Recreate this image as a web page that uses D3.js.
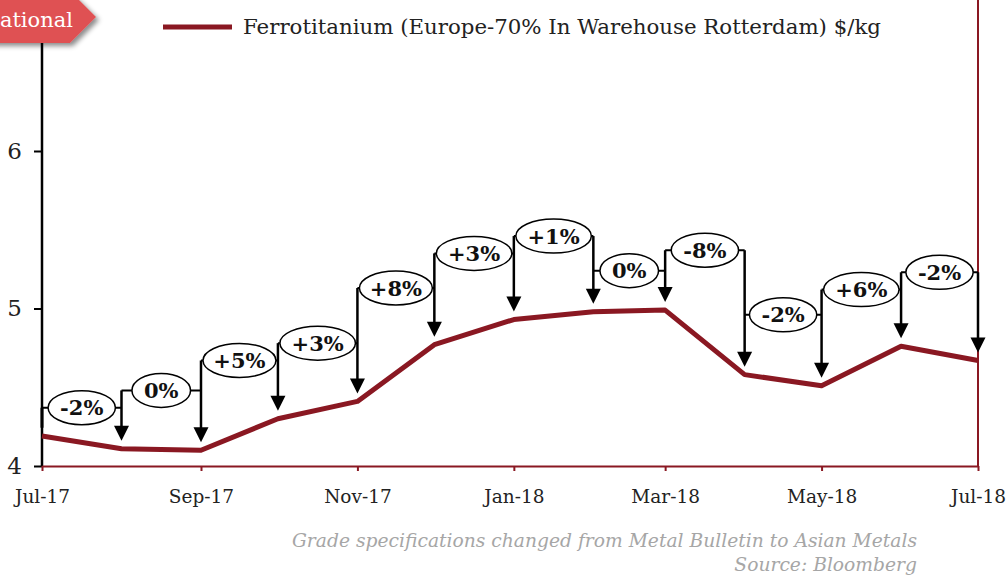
<!DOCTYPE html>
<html>
<head>
<meta charset="utf-8">
<script src="https://cdn.jsdelivr.net/npm/d3@7"></script>
<style>
  body { margin: 0; background: #fff; }
  svg { display: block; font-family: Georgia, "DejaVu Serif", serif; }
</style>
</head>
<body>
<div id="chart"></div>
<script>
/*
DATA
*/
const months = ["2017-07", "2017-08", "2017-09", "2017-10", "2017-11", "2017-12",
  "2018-01", "2018-02", "2018-03", "2018-04", "2018-05", "2018-06", "2018-07"];
const prices = [4.19, 4.11, 4.10, 4.30, 4.41, 4.77, 4.93, 4.98, 4.99, 4.58, 4.51, 4.76, 4.67];
// month-on-month change labels and the height (in $/kg) where each label sits
const changeLabels = ["-2%", "0%", "+5%", "+3%", "+8%", "+3%", "+1%", "0%", "-8%", "-2%", "+6%", "-2%"];
const labelLevels = [4.37, 4.48, 4.67, 4.78, 5.13, 5.35, 5.46, 5.24, 5.37, 4.96, 5.12, 5.23];
const yTicks = [4, 5, 6];
const xTicks = ["2017-07", "2017-09", "2017-11", "2018-01", "2018-03", "2018-05", "2018-07"];

const seriesName = "Ferrotitanium (Europe-70% In Warehouse Rotterdam) $/kg";
const footNote = "Grade specifications changed from Metal Bulletin to Asian Metals";
const source = "Source: Bloomberg";
const bannerText = "ational";

/*
SET UP
*/
const W = 1008, H = 575;
const red = "#8a1822";
const parse = d3.timeParse("%Y-%m");
const data = months.map((m, i) => ({ date: parse(m), v: prices[i] }));

const svg = d3.select("#chart").append("svg")
  .attr("width", W)
  .attr("height", H);

const x = d3.scaleTime()
  .domain([parse(months[0]), parse(months[months.length - 1])])
  .range([42, 978]);

const y = d3.scaleLinear()
  .domain([4, 7])
  .range([466, 466 - 3 * 157.5]);

/*
AXES
*/
const yAxis = svg.append("g")
  .attr("transform", "translate(42,0)")
  .call(d3.axisLeft(y).tickValues(yTicks).tickFormat(d3.format("d")).tickSize(8).tickPadding(12));
yAxis.select(".domain").attr("d", `M0,${y(7)}V${y(4)}`).attr("stroke", "#000").attr("stroke-width", 2.5);
yAxis.selectAll(".tick line").attr("stroke", "#000").attr("stroke-width", 2);
yAxis.selectAll(".tick text").attr("font-size", 23).attr("fill", "#222").attr("font-family", "Georgia, 'DejaVu Serif', serif");

const xAxis = svg.append("g")
  .attr("transform", "translate(0,466)")
  .call(d3.axisBottom(x)
    .tickValues(xTicks.map(parse))
    .tickFormat(d3.timeFormat("%b-%y"))
    .tickSize(5).tickSizeOuter(0).tickPadding(19));
xAxis.select(".domain").attr("stroke", red).attr("stroke-width", 2);
xAxis.selectAll(".tick line").attr("stroke", red).attr("stroke-width", 2);
xAxis.selectAll(".tick text").attr("font-size", 18.5).attr("fill", "#222").attr("font-family", "Georgia, 'DejaVu Serif', serif");

// right border
svg.append("line")
  .attr("x1", 978).attr("x2", 978)
  .attr("y1", y(7)).attr("y2", y(4))
  .attr("stroke", red).attr("stroke-width", 2);

/*
PRICE LINE
*/
const line = d3.line().x(d => x(d.date)).y(d => y(d.v));
svg.append("path")
  .datum(data)
  .attr("d", line)
  .attr("fill", "none")
  .attr("stroke", red)
  .attr("stroke-width", 5)
  .attr("stroke-linejoin", "round");

/*
CHANGE ANNOTATIONS
*/
const ann = svg.append("g");
// vertical arrows down to each point, from the higher of the adjoining label levels
data.forEach((d, j) => {
  const px = x(d.date);
  const levels = [];
  if (j > 0) levels.push(labelLevels[j - 1]);
  if (j < labelLevels.length) levels.push(labelLevels[j]);
  const top = y(d3.max(levels));
  if (j === 0) {
    ann.append("line")
      .attr("x1", px).attr("x2", px)
      .attr("y1", top).attr("y2", top + 20)
      .attr("stroke", "#000").attr("stroke-width", 3);
    return;
  }
  const tip = y(d.v) - 8;
  ann.append("line")
    .attr("x1", px).attr("x2", px)
    .attr("y1", top).attr("y2", tip - 12)
    .attr("stroke", "#000").attr("stroke-width", 2.5);
  ann.append("path")
    .attr("d", `M${px - 7.5},${tip - 15}L${px + 7.5},${tip - 15}L${px},${tip}Z`)
    .attr("fill", "#000");
});

// horizontal connectors with ellipse labels
changeLabels.forEach((lab, i) => {
  const x0 = x(data[i].date), x1 = x(data[i + 1].date);
  const cy = y(labelLevels[i]);
  const cx = (x0 + x1) / 2;
  ann.append("line")
    .attr("x1", x0).attr("x2", x1)
    .attr("y1", cy).attr("y2", cy)
    .attr("stroke", "#000").attr("stroke-width", 2);
  const el = ann.append("ellipse")
    .attr("cx", cx).attr("cy", cy)
    .attr("ry", 17)
    .attr("fill", "#fff")
    .attr("stroke", "#000").attr("stroke-width", 1.5);
  const t = ann.append("text")
    .attr("x", cx).attr("y", cy + 7.5)
    .attr("text-anchor", "middle")
    .attr("font-size", 21)
    .attr("font-weight", "bold")
    .attr("fill", "#111")
    .text(lab);
  const tw = t.node().getComputedTextLength();
  el.attr("rx", Math.min((tw + 24) / 2, (x1 - x0) / 2 - 2));
});

/*
LEGEND
*/
svg.append("line")
  .attr("x1", 163).attr("x2", 232)
  .attr("y1", 27).attr("y2", 27)
  .attr("stroke", red).attr("stroke-width", 5);
svg.append("text")
  .attr("x", 243).attr("y", 34)
  .attr("font-size", 21.3)
  .attr("fill", "#222")
  .text(seriesName);

/*
BANNER
*/
const defs = svg.append("defs");
const f = defs.append("filter").attr("id", "shadow").attr("x", "-20%").attr("y", "-20%").attr("width", "150%").attr("height", "160%");
f.append("feDropShadow").attr("dx", 3).attr("dy", 3).attr("stdDeviation", 2.5).attr("flood-color", "#000").attr("flood-opacity", 0.45);
svg.append("path")
  .attr("d", "M-200,-9L70,-9L96,17L70,43L-200,43Z")
  .attr("fill", "#df5152")
  .attr("filter", "url(#shadow)");
svg.append("text")
  .attr("x", 73).attr("y", 27)
  .attr("text-anchor", "end")
  .attr("font-size", 21)
  .attr("fill", "#fff")
  .text(bannerText);

/*
FOOTNOTE
*/
svg.append("text")
  .attr("x", 917).attr("y", 547)
  .attr("text-anchor", "end")
  .attr("font-size", 18.7).attr("font-style", "italic")
  .attr("fill", "#a6a6a6")
  .text(footNote);
svg.append("text")
  .attr("x", 917).attr("y", 571)
  .attr("text-anchor", "end")
  .attr("font-size", 18.7).attr("font-style", "italic")
  .attr("fill", "#a6a6a6")
  .text(source);
</script>
</body>
</html>
